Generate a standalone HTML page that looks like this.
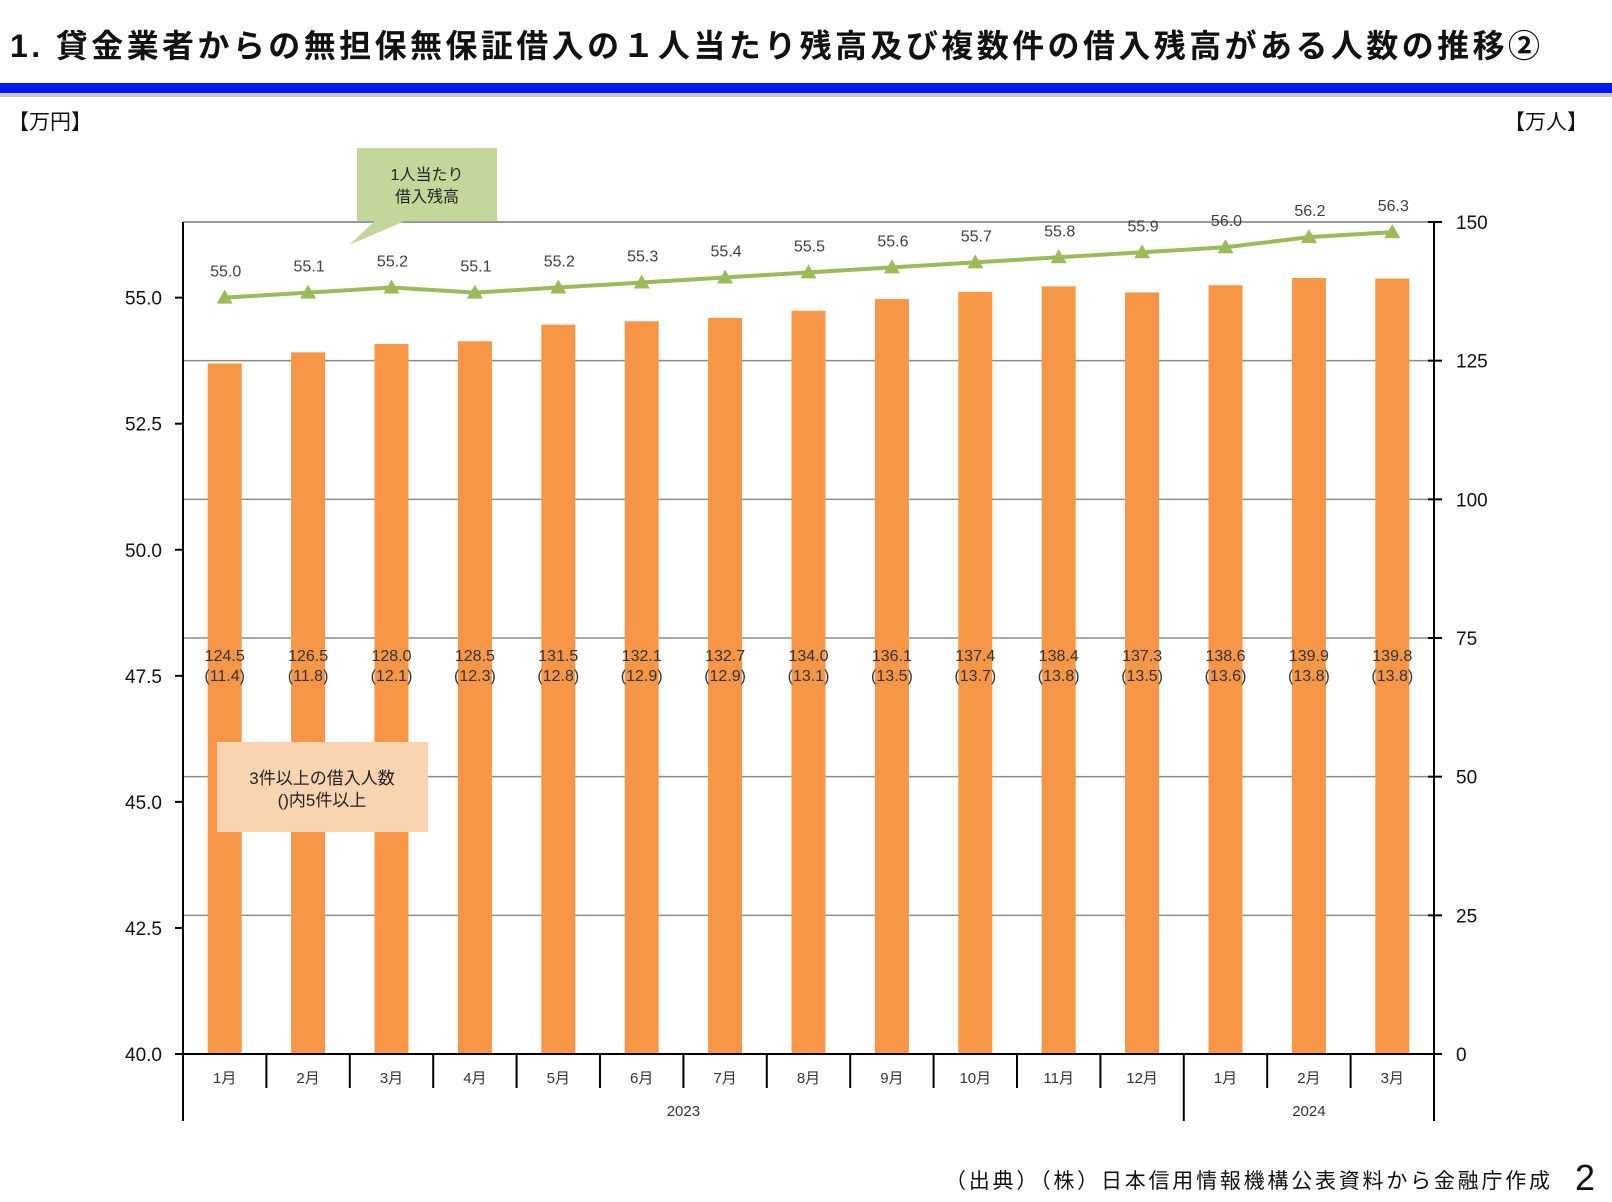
<!DOCTYPE html>
<html><head><meta charset="utf-8"><style>
body{margin:0;background:#fff;}
svg{display:block;font-family:"Liberation Sans","Noto Sans CJK JP",sans-serif;}
</style></head><body>
<svg id="chart" width="1612" height="1202" viewBox="0 0 1612 1202">
<text x="10" y="57" font-size="32" font-weight="bold" fill="#111" textLength="1530" lengthAdjust="spacing">1. 貸金業者からの無担保無保証借入の１人当たり残高及び複数件の借入残高がある人数の推移②</text>
<rect x="0" y="83" width="1612" height="10" fill="#0019f0"/>
<rect x="0" y="93" width="1612" height="4" fill="#c8c8c8"/>
<text x="8" y="129" font-size="21" fill="#111">【万円】</text>
<text x="1588" y="129" font-size="21" fill="#111" text-anchor="end">【万人】</text>
<g id="grid"></g><g id="bars"></g><g id="axes"></g><g id="line"></g><g id="labels"></g>
<g>
<polygon points="357,148 497,148 497,221 405,221 349,245 375,221 357,221" fill="#c4d79b"/>
<text x="427" y="180" font-size="16" text-anchor="middle" fill="#222">1人当たり</text>
<text x="427" y="202" font-size="16" text-anchor="middle" fill="#222">借入残高</text>
</g>
<g>
<rect x="217" y="742" width="211" height="90" fill="#fad3b0"/>
<text x="322" y="784" font-size="17" text-anchor="middle" fill="#222">3件以上の借入人数</text>
<text x="322" y="806" font-size="17" text-anchor="middle" fill="#222">()内5件以上</text>
</g>
<text x="945" y="1188" font-size="21" fill="#111" textLength="605" lengthAdjust="spacing">（出典）（株）日本信用情報機構公表資料から金融庁作成</text>
<text x="1595" y="1190" font-size="36" text-anchor="end" fill="#111">2</text>
</svg>
<script>
const months=["1月","2月","3月","4月","5月","6月","7月","8月","9月","10月","11月","12月","1月","2月","3月"];
const people=[124.5,126.5,128.0,128.5,131.5,132.1,132.7,134.0,136.1,137.4,138.4,137.3,138.6,139.9,139.8];
const people5=[11.4,11.8,12.1,12.3,12.8,12.9,12.9,13.1,13.5,13.7,13.8,13.5,13.6,13.8,13.8];
const balance=[55.0,55.1,55.2,55.1,55.2,55.3,55.4,55.5,55.6,55.7,55.8,55.9,56.0,56.2,56.3];
const leftTicks=[40.0,42.5,45.0,47.5,50.0,52.5,55.0];
const rightTicks=[0,25,50,75,100,125,150];
const years=[{label:"2023",from:0,to:12},{label:"2024",from:12,to:15}];

const NS="http://www.w3.org/2000/svg";
const X0=183,X1=1434,Y0=1054,Y1=222;
const bw=(X1-X0)/months.length;
const xc=i=>X0+bw*(i+0.5);
const yR=v=>Y0-(v/150)*(Y0-Y1);
const yL=v=>Y0-((v-40)/16.5)*(Y0-Y1);
function mk(tag,attrs,parent,txt){const e=document.createElementNS(NS,tag);for(const k in attrs)e.setAttribute(k,attrs[k]);if(txt!==undefined)e.textContent=txt;document.getElementById(parent).appendChild(e);return e;}

rightTicks.forEach(v=>{
  if(v>0){const g=mk('line',{x1:X0,x2:X1,y1:yR(v),y2:yR(v),stroke:'#8c8c8c','stroke-width':1.5},'grid');
  
  }
  const t=mk('line',{x1:X1-6,x2:X1+8,y1:yR(v),y2:yR(v),stroke:'#000','stroke-width':2},'axes');
  
  
  const l=mk('text',{x:1456,y:yR(v)+7,'font-size':19,fill:'#111'},'axes',String(v));
  
  
});
leftTicks.forEach(v=>{
  const t=mk('line',{x1:X0-8,x2:X0,y1:yL(v),y2:yL(v),stroke:'#000','stroke-width':2},'axes');
  
  
  const l=mk('text',{x:162,y:yL(v)+7,'font-size':19,fill:'#111','text-anchor':'end'},'axes',v.toFixed(1));
  
  
});
const plotTop=mk('line',{x1:X0,x2:X1,y1:Y1,y2:Y1,stroke:'#8c8c8c','stroke-width':1.5},'grid');



people.forEach((v,i)=>{
  const r=mk('rect',{x:xc(i)-17,y:yR(v),width:34,height:Y0-yR(v),fill:'#f79646'},'bars');
  
  
  const a=mk('text',{x:xc(i),y:661,'font-size':16,'text-anchor':'middle',fill:'#333'},'labels',v.toFixed(1));
  
  
  const b=mk('text',{x:xc(i),y:681,'font-size':16,'text-anchor':'middle',fill:'#333'},'labels','('+people5[i].toFixed(1)+')');
  
  
  const m=mk('text',{x:xc(i),y:1083,'font-size':15,'text-anchor':'middle',fill:'#333'},'axes',months[i]);
  
  
});
[[X0,X0,Y1,1121],[X1,X1,Y1,1121],[X0,X1,Y0,Y0]].forEach(c=>{
  const l=mk('line',{x1:c[0],x2:c[1],y1:c[2],y2:c[3],stroke:'#000','stroke-width':2},'axes');
  
  
});
for(let i=1;i<months.length;i++){
  const isYear=years.some(y=>y.from===i);
  const l=mk('line',{x1:X0+bw*i,x2:X0+bw*i,y1:Y0,y2:isYear?1121:1088,stroke:'#000','stroke-width':2},'axes');
  
  
}
years.forEach(y=>{
  const t=mk('text',{x:X0+bw*(y.from+y.to)/2,y:1116,'font-size':15,'text-anchor':'middle',fill:'#333'},'axes',y.label);
  
  
});
const pl=mk('polyline',{points:balance.map((v,i)=>xc(i)+','+yL(v)).join(' '),fill:'none',stroke:'#9bbb59','stroke-width':4},'line');


balance.forEach((v,i)=>{
  const x=xc(i),y=yL(v);
  const p=mk('polygon',{points:`${x},${y-8} ${x-8},${y+6} ${x+8},${y+6}`,fill:'#9bbb59'},'line');
  
  
  const t=mk('text',{x:x+1,y:y-21,'font-size':16,'text-anchor':'middle',fill:'#404040'},'labels',v.toFixed(1));
  
  
});
</script>
</body></html>
